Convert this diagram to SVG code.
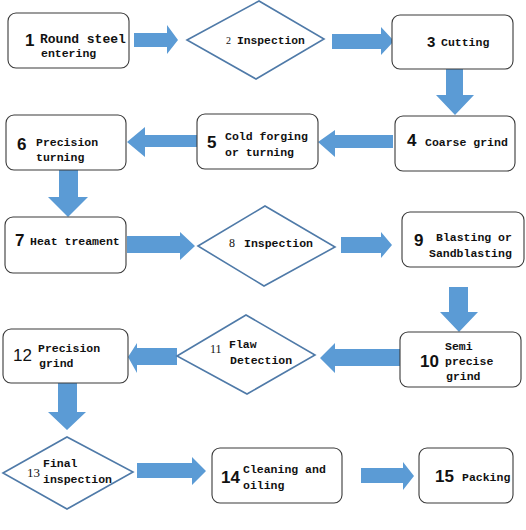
<svg xmlns="http://www.w3.org/2000/svg" width="526" height="530" viewBox="0 0 526 530">
<style>
.box{fill:#fff;stroke:#3a3a3a;stroke-width:1.1}
.dia{fill:#fff;stroke:#4f7aa8;stroke-width:1.6;stroke-linejoin:miter}
.arr{fill:#5b9bd5;stroke:none}
.t{font-family:"Liberation Mono",monospace;font-weight:bold;font-size:11.5px;fill:#111}
.big{font-family:"Liberation Mono",monospace;font-weight:bold;font-size:13px;fill:#111}
.n{font-family:"Liberation Sans",Arial,sans-serif;font-weight:bold;font-size:17px;fill:#111}
.nr{font-family:"Liberation Sans",Arial,sans-serif;font-size:17px;fill:#111}
.ns{font-family:"Liberation Serif",serif;font-size:12px;fill:#111}
</style>
<rect width="526" height="530" fill="#fff"/>
<g id="connectors">
<polygon class="arr" points="134,33 167,33 167,25 178,40 167,54 167,47 134,47"/>
<polygon class="arr" points="332,34 381,34 381,27 394,41 381,55 381,49 332,49"/>
<polygon class="arr" points="446,69 463,69 463,95 474,95 455,115 436,95 446,95"/>
<polygon class="arr" points="393,135 335,135 335,130 318,142 335,157 335,148 393,148"/>
<polygon class="arr" points="197,135 145,135 145,127 127,142 145,157 145,147 197,147"/>
<polygon class="arr" points="59,170 78,170 78,197 88,197 68,217 48,197 59,197"/>
<polygon class="arr" points="127,236 180,236 180,232 195,246 180,260 180,253 127,253"/>
<polygon class="arr" points="341,237 381,237 381,232 392,245 381,258 381,253 341,253"/>
<polygon class="arr" points="449,287 468,287 468,312 478,312 459,332 440,312 449,312"/>
<polygon class="arr" points="400,349 335,349 335,343 320,358 335,373 335,366 400,366"/>
<polygon class="arr" points="177,348 137,348 137,343 128,357 137,373 137,365 177,365"/>
<polygon class="arr" points="58,383 77,383 77,412 86,412 67,430 48,412 58,412"/>
<polygon class="arr" points="137,463 192,463 192,457 206,471 192,485 192,478 137,478"/>
<polygon class="arr" points="361,468 403,468 403,462 414,476 403,490 403,483 361,483"/>
</g>
<g id="node1">
<rect class="box" x="8" y="13" width="121" height="55" rx="8"/>
<text class="n" x="25" y="46">1</text>
<text class="big" x="40" y="43">Round steel</text>
<text class="t" x="41" y="57">entering</text>
</g>
<g id="node2">
<polygon class="dia" points="187,40 259,1 324,39 256,79"/>
<text class="ns" x="226" y="44" style="font-size:10px">2</text>
<text class="t" x="237" y="44" style="font-size:11.3px">Inspection</text>
</g>
<g id="node3">
<rect class="box" x="392" y="15" width="121" height="54" rx="8"/>
<text class="n" x="427" y="47" style="font-size:15px">3</text>
<text class="t" x="441" y="46">Cutting</text>
</g>
<g id="node4">
<rect class="box" x="395" y="116" width="120" height="55" rx="8"/>
<text class="n" x="407" y="146">4</text>
<text class="t" x="425" y="146">Coarse grind</text>
</g>
<g id="node5">
<rect class="box" x="197" y="114" width="121" height="55" rx="8"/>
<text class="n" x="207" y="148">5</text>
<text class="t" x="225" y="140">Cold forging</text>
<text class="t" x="225" y="156">or turning</text>
</g>
<g id="node6">
<rect class="box" x="6" y="115" width="120" height="55" rx="8"/>
<text class="n" x="17" y="150">6</text>
<text class="t" x="36" y="146">Precision</text>
<text class="t" x="36" y="161">turning</text>
</g>
<g id="node7">
<rect class="box" x="5" y="217" width="121" height="56" rx="8"/>
<text class="n" x="15" y="246">7</text>
<text class="t" x="30" y="245">Heat treament</text>
</g>
<g id="node8">
<polygon class="dia" points="198,246 265,206 335,247 264,286"/>
<text class="ns" x="229" y="247">8</text>
<text class="t" x="244" y="247">Inspection</text>
</g>
<g id="node9">
<rect class="box" x="402" y="212" width="122" height="55" rx="8"/>
<text class="n" x="414" y="246">9</text>
<text class="t" x="436" y="241">Blasting or</text>
<text class="t" x="429" y="257">Sandblasting</text>
</g>
<g id="node10">
<rect class="box" x="400" y="332" width="121" height="55" rx="8"/>
<text class="t" x="445" y="350">Semi</text>
<text class="n" x="420" y="367">10</text>
<text class="t" x="445" y="365">precise</text>
<text class="t" x="446" y="380">grind</text>
</g>
<g id="node11">
<polygon class="dia" points="177,356 246,315 315,355 247,394"/>
<text class="ns" x="210" y="353">11</text>
<text class="t" x="229" y="348">Flaw</text>
<text class="t" x="230" y="364">Detection</text>
</g>
<g id="node12">
<rect class="box" x="3" y="329" width="125" height="54" rx="8"/>
<text class="nr" x="13" y="361">12</text>
<text class="t" x="38" y="352">Precision</text>
<text class="t" x="39" y="367">grind</text>
</g>
<g id="node13">
<polygon class="dia" points="3,473 67,437 133,472 67,509"/>
<text class="ns" x="27" y="477" style="font-size:13px">13</text>
<text class="t" x="43" y="467">Final</text>
<text class="t" x="43" y="483">inspection</text>
</g>
<g id="node14">
<rect class="box" x="212" y="448" width="130" height="55" rx="8"/>
<text class="n" x="221" y="483">14</text>
<text class="t" x="243" y="473">Cleaning and</text>
<text class="t" x="243" y="489">oiling</text>
</g>
<g id="node15">
<rect class="box" x="419" y="448" width="94" height="55" rx="8"/>
<text class="n" x="435" y="482">15</text>
<text class="t" x="462" y="481">Packing</text>
</g>
</svg>
